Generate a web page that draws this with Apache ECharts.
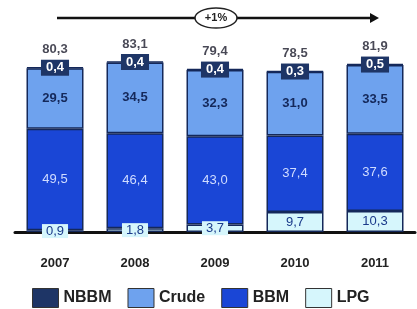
<!DOCTYPE html>
<html>
<head>
<meta charset="utf-8">
<script src="https://cdn.jsdelivr.net/npm/echarts@6/dist/echarts.min.js"></script>
<style>
    html, body { margin: 0; padding: 0; background: #fff; }
    #chart { width: 417px; height: 309px; }
</style>
</head>
<body>
<div id="chart"></div>
<script>
// data
const years = ['2007', '2008', '2009', '2010', '2011']
const lpg = [0.9, 1.8, 3.7, 9.7, 10.3]
const bbm = [49.5, 46.4, 43.0, 37.4, 37.6]
const crude = [29.5, 34.5, 32.3, 31.0, 33.5]
const nbbm = [0.4, 0.4, 0.4, 0.3, 0.5]
const totals = [80.3, 83.1, 79.4, 78.5, 81.9]
const growthText = '+1%'

const numFont = '"Liberation Sans Narrow", "Liberation Sans", Arial, sans-serif'
const comma = v => v.toFixed(1).replace('.', ',')
const border = '#14285a'

const barSeries = (name, data, color, label) => ({
    name,
    type: 'bar',
    stack: 'all',
    data,
    barWidth: 57,
    itemStyle: { color, borderColor: border, borderWidth: 1.5 },
    label: Object.assign({
        show: true,
        position: 'inside',
        fontFamily: numFont,
        fontSize: 13,
        formatter: p => comma(p.value)
    }, label)
})

const chart = echarts.init(document.getElementById('chart'))
chart.setOption({
    animation: false,
    grid: { left: 15, right: 2, top: 30, bottom: 77 },
    xAxis: {
        type: 'category',
        data: years,
        axisLine: { show: true, lineStyle: { color: '#111', width: 3 } },
        axisTick: { show: false },
        axisLabel: {
            margin: 25,
            color: '#222',
            fontWeight: 'bold',
            fontSize: 13,
            fontFamily: numFont
        }
    },
    yAxis: { type: 'value', min: 0, max: 98.5, show: false },
    legend: {
        data: ['NBBM', 'Crude', 'BBM', 'LPG'],
        icon: 'rect',
        left: 27,
        top: 283,
        itemWidth: 26,
        itemHeight: 19,
        itemGap: 16,
        itemStyle: { borderColor: '#333', borderWidth: 1 },
        textStyle: {
            color: '#222',
            fontWeight: 'bold',
            fontSize: 16,
            fontFamily: '"Liberation Sans", Arial, sans-serif'
        }
    },
    series: [
        barSeries('LPG', lpg, '#d6f6fc', {
            color: '#1a3a8a',
            backgroundColor: '#d6f6fc',
            padding: [1, 4, 0, 4]
        }),
        barSeries('BBM', bbm, '#1a46d6', { color: '#d0dcff' }),
        barSeries('Crude', crude, '#6ea2ee', { color: '#14285a', fontWeight: 'bold' }),
        barSeries('NBBM', nbbm, '#1e3566', {
            color: '#fff',
            fontWeight: 'bold',
            backgroundColor: '#1e3566',
            padding: [2, 5, 1, 5]
        }),
        {
            name: 'total',
            type: 'scatter',
            data: totals,
            symbolSize: 0,
            silent: true,
            label: {
                show: true,
                position: 'top',
                distance: 11,
                color: '#1a1a2a',
                fontWeight: 'bold',
                fontSize: 13,
                fontFamily: numFont,
                formatter: p => comma(p.value)
            }
        }
    ],
    graphic: [
        {
            type: 'line',
            shape: { x1: 57, y1: 18, x2: 372, y2: 18 },
            style: { stroke: '#111', lineWidth: 2.5 }
        },
        {
            type: 'polygon',
            shape: { points: [[370, 13], [379, 18], [370, 23]] },
            style: { fill: '#111' }
        },
        {
            type: 'ellipse',
            shape: { cx: 216, cy: 18, rx: 21, ry: 10 },
            style: { fill: '#fff', stroke: '#222', lineWidth: 1.5 }
        },
        {
            type: 'text',
            x: 216,
            y: 18,
            style: {
                text: growthText,
                align: 'center',
                verticalAlign: 'middle',
                fill: '#222',
                font: 'bold 11px ' + numFont
            }
        }
    ]
})
</script>
</body>
</html>
